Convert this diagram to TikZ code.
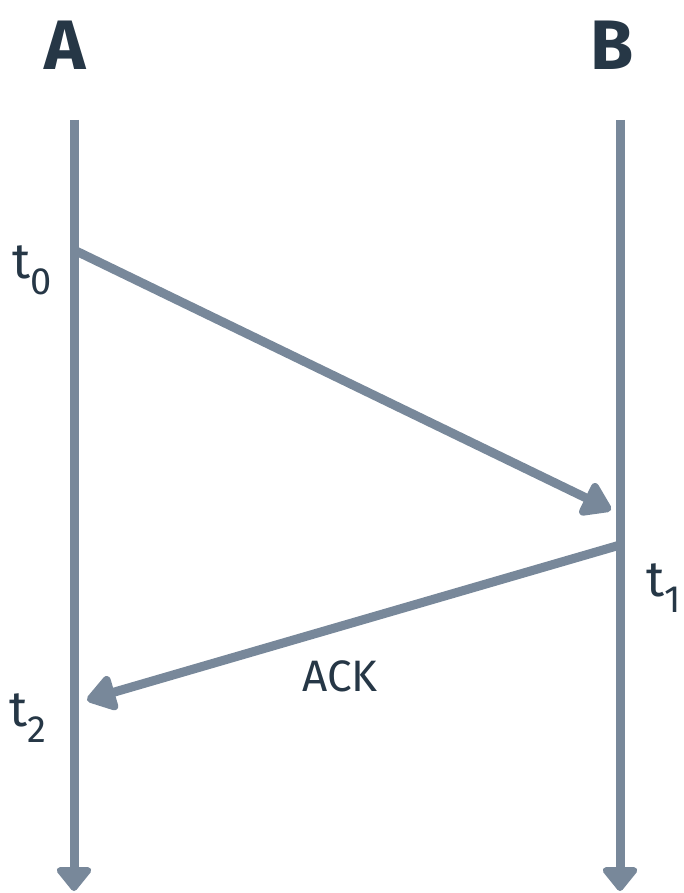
\documentclass[tikz,border=0pt]{standalone}
\usepackage{fontspec}
\setmainfont{Fira Sans}
\usetikzlibrary{arrows.meta}
\definecolor{lifeline}{HTML}{78889A}
\definecolor{ink}{HTML}{263746}
\newcommand{\tlab}[1]{t\raisebox{-0.32em}{\fontsize{38}{38}\selectfont #1}}
\begin{document}
\begin{tikzpicture}[x=1pt,y=-1pt,
  line/.style={line width=9pt,draw=lifeline},
  endtip/.style={-{Triangle[width=40pt,length=26pt,round]}},
  msgtip/.style={-{Triangle[width=40pt,length=32pt,round]}},
  lbl/.style={text=ink,font=\fontsize{44}{44}\selectfont,inner sep=0pt}]
\useasboundingbox (0,0) rectangle (683,893);
\node[lbl,font=\fontsize{70}{70}\selectfont\bfseries] (A) at (65,45) {A};
\node[lbl,font=\fontsize{70}{70}\selectfont\bfseries] (B) at (612,45) {B};
\coordinate (Atop) at (74,120); \coordinate (Abot) at (74,891);
\coordinate (Btop) at (620,120); \coordinate (Bbot) at (620,891);
\draw[line,endtip] (Atop) -- (Abot);
\draw[line,endtip] (Btop) -- (Bbot);
\coordinate (send) at (74,250); \coordinate (recv) at (611,510);
\coordinate (ackB) at (620,545); \coordinate (ackA) at (87,700);
\draw[line,msgtip] (send) -- (recv);
\draw[line,msgtip] (ackB) -- (ackA);
\node[lbl,font=\fontsize{50}{50}\selectfont] (t0) at (32,270) {\tlab{0}};
\node[lbl,font=\fontsize{50}{50}\selectfont] (t1) at (664,588) {\tlab{1}};
\node[lbl,font=\fontsize{50}{50}\selectfont] (t2) at (28,718) {\tlab{2}};
\node[lbl] (ack) at (340,676) {ACK};
\end{tikzpicture}
\end{document}
